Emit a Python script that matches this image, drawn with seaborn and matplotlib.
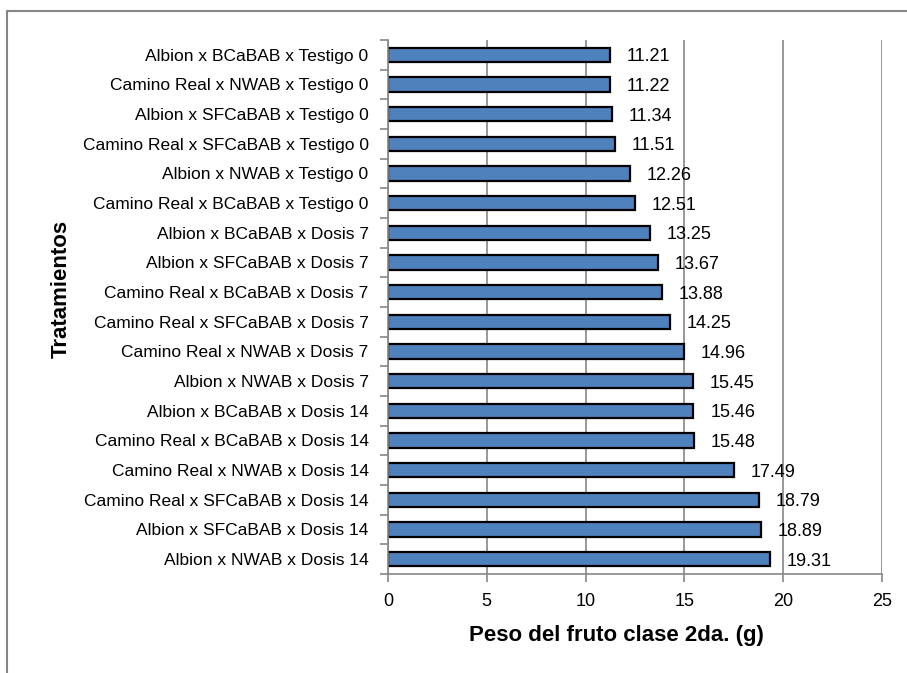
import numpy as np
import pandas as pd
import matplotlib.pyplot as plt
import seaborn as sns
from matplotlib.lines import Line2D

# Daten (von oben nach unten)
tratamientos = [
    "Albion x BCaBAB x Testigo 0",
    "Camino Real x NWAB x Testigo 0",
    "Albion x SFCaBAB x Testigo 0",
    "Camino Real x SFCaBAB x Testigo 0",
    "Albion x NWAB x Testigo 0",
    "Camino Real x BCaBAB x Testigo 0",
    "Albion x BCaBAB x Dosis 7",
    "Albion x SFCaBAB x Dosis 7",
    "Camino Real x BCaBAB x Dosis 7",
    "Camino Real x SFCaBAB x Dosis 7",
    "Camino Real x NWAB x Dosis 7",
    "Albion x NWAB x Dosis 7",
    "Albion x BCaBAB x Dosis 14",
    "Camino Real x BCaBAB x Dosis 14",
    "Camino Real x NWAB x Dosis 14",
    "Camino Real x SFCaBAB x Dosis 14",
    "Albion x SFCaBAB x Dosis 14",
    "Albion x NWAB x Dosis 14",
]
peso = [11.21, 11.22, 11.34, 11.51, 12.26, 12.51, 13.25, 13.67, 13.88,
        14.25, 14.96, 15.45, 15.46, 15.48, 17.49, 18.79, 18.89, 19.31]
x_ticks = [0, 5, 10, 15, 20, 25]

df = pd.DataFrame({"tratamiento": tratamientos, "peso": peso})

sns.set_style("white")
plt.rcParams["font.family"] = ["Liberation Sans", "DejaVu Sans"]
plt.rcParams["text.color"] = "black"
plt.rcParams["xtick.color"] = "black"
plt.rcParams["ytick.color"] = "black"

fig = plt.figure(figsize=(9.07, 6.73), dpi=100)
ax = fig.add_axes([0.4278, 0.1471, 0.5446, 0.7935])

sns.barplot(data=df, x="peso", y="tratamiento", orient="h", color="#4F81BD",
            saturation=1, edgecolor="black", linewidth=1.6, width=0.48, ax=ax)

gris = "#868686"
ax.set_xlim(0, 25)
ax.set_xticks(x_ticks)
ax.set_xticklabels([str(t) for t in x_ticks], fontsize=13)
ax.xaxis.grid(True, color=gris, linewidth=1.2)
ax.set_axisbelow(True)
ax.set_ylim(len(tratamientos) - 0.5, -0.5)

for s in ["top", "right"]:
    ax.spines[s].set_visible(False)
for s in ["left", "bottom"]:
    ax.spines[s].set_color(gris)
    ax.spines[s].set_linewidth(1.2)

ax.tick_params(axis="x", direction="out", length=6, color=gris, width=1.2,
               bottom=True, pad=8)
ax.tick_params(axis="y", which="major", length=0, pad=14, labelsize=12.5)
ax.set_yticks(np.arange(-0.5, len(tratamientos), 1), minor=True)
ax.tick_params(axis="y", which="minor", direction="out", length=6, color=gris,
               width=1.2, left=True)

for i, v in enumerate(peso):
    ax.annotate(f"{v:.2f}", (v, i), xytext=(12, -1.5), textcoords="offset points",
                ha="left", va="center", fontsize=13)

ax.set_xlabel("")
ax.set_ylabel("")
fig.text(0.68, 0.055, "Peso del fruto clase 2da. (g)", ha="center", va="center",
         fontsize=16, fontweight="bold")
fig.text(0.068, 0.57, "Tratamientos", ha="center", va="center", rotation=90,
         fontsize=16, fontweight="bold")

# Rahmen
fig.add_artist(Line2D([0.0077, 1.0], [0.9837, 0.9837], transform=fig.transFigure,
                      color=gris, linewidth=1.5))
fig.add_artist(Line2D([0.0077, 0.0077], [0.0, 0.9837], transform=fig.transFigure,
                      color=gris, linewidth=1.5))

fig.savefig("out.png", dpi=100)
